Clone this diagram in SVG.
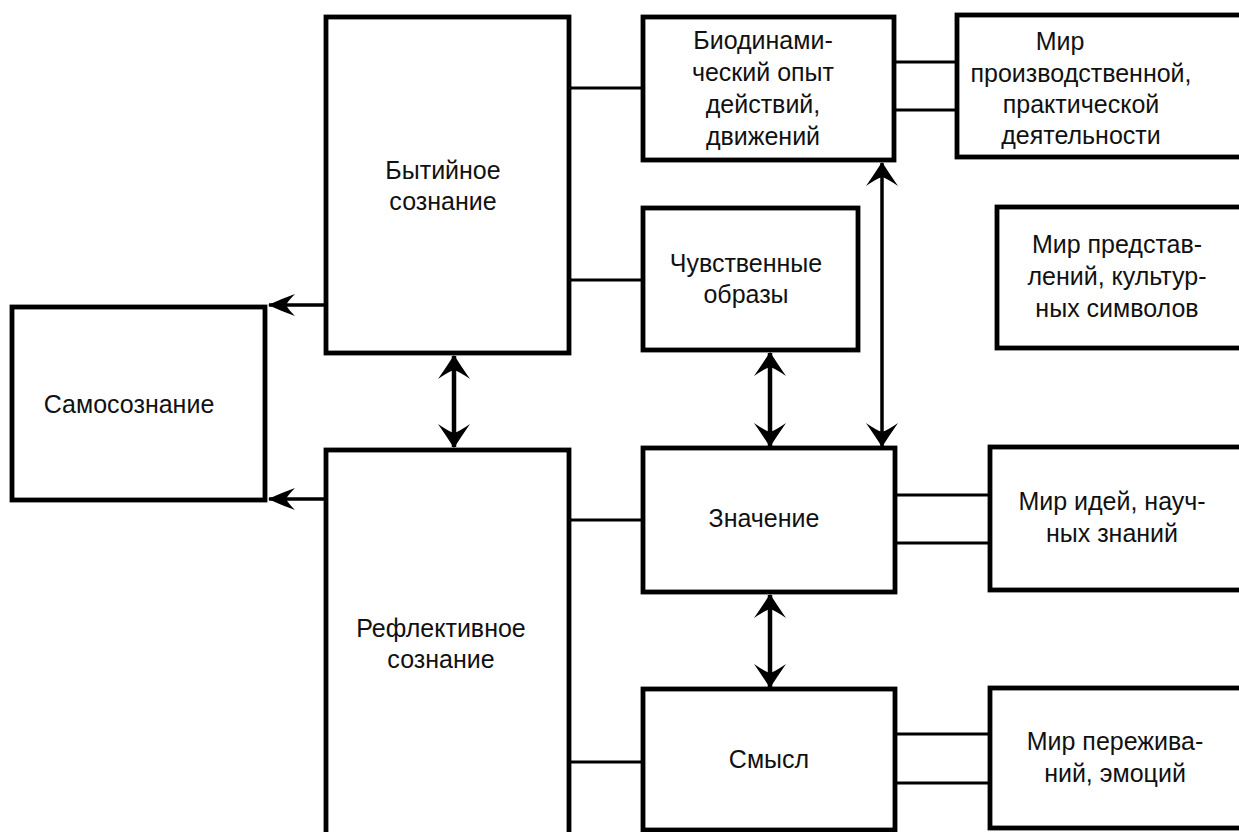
<svg xmlns="http://www.w3.org/2000/svg" width="1239" height="832" viewBox="0 0 1239 832">
<style>
.box{fill:#fff;stroke:#000;stroke-width:4.8}
.ln{fill:none;stroke:#000;stroke-width:3.2}
.dar{fill:none;stroke:#000;stroke-width:4.5}
.lar{fill:none;stroke:#000;stroke-width:3.5}
text{font-family:"Liberation Sans",Arial,sans-serif;font-size:25px;fill:#111;text-anchor:middle}
</style>
<defs>
<marker id="ah" viewBox="-26 -17 28 34" refX="0" refY="0" markerWidth="28" markerHeight="34" markerUnits="userSpaceOnUse" orient="auto-start-reverse">
<path d="M1,0 Q-10,-7 -23,-16 Q-16,-6 -14,0 Q-16,6 -23,16 Q-10,7 1,0 Z" fill="#000"/>
</marker>
<marker id="ahs" viewBox="-30 -13 32 26" refX="0" refY="0" markerWidth="32" markerHeight="26" markerUnits="userSpaceOnUse" orient="auto-start-reverse">
<path d="M1,0 Q-12,-6 -26,-11 Q-19,-4 -17,0 Q-19,4 -26,11 Q-12,6 1,0 Z" fill="#000"/>
</marker>
</defs>
<rect width="1239" height="832" fill="#fff"/>
<g id="connectors">
<line class="ln" x1="569" y1="88" x2="643" y2="88"/>
<line class="ln" x1="569" y1="280" x2="643" y2="280"/>
<line class="ln" x1="569" y1="520" x2="643" y2="520"/>
<line class="ln" x1="569" y1="762" x2="643" y2="762"/>
<line class="ln" x1="894" y1="62" x2="957" y2="62"/>
<line class="ln" x1="894" y1="110" x2="957" y2="110"/>
<line class="ln" x1="895" y1="495" x2="990" y2="495"/>
<line class="ln" x1="895" y1="543" x2="990" y2="543"/>
<line class="ln" x1="895" y1="734" x2="990" y2="734"/>
<line class="ln" x1="895" y1="783" x2="990" y2="783"/>
<line class="lar" x1="326" y1="305" x2="269" y2="305" marker-end="url(#ahs)"/>
<line class="lar" x1="326" y1="499" x2="269" y2="499" marker-end="url(#ahs)"/>
<line class="dar" x1="454" y1="356" x2="454" y2="447" marker-start="url(#ah)" marker-end="url(#ah)"/>
<line class="dar" x1="770" y1="353" x2="770" y2="446" marker-start="url(#ah)" marker-end="url(#ah)"/>
<line class="dar" x1="770" y1="595" x2="770" y2="687" marker-start="url(#ah)" marker-end="url(#ah)"/>
<line class="lar" x1="882" y1="163" x2="882" y2="446" marker-start="url(#ah)" marker-end="url(#ah)"/>
</g>
<g id="n-bytiynoe">
<rect class="box" x="326" y="17" width="243" height="336"/>
<text x="443" y="179">Бытийное</text>
<text x="443" y="210">сознание</text>
</g>
<g id="n-refl">
<rect class="box" x="326" y="450" width="243" height="400"/>
<text x="441" y="637">Рефлективное</text>
<text x="441" y="668">сознание</text>
</g>
<g id="n-samo">
<rect class="box" x="12" y="307" width="253" height="193"/>
<text x="129" y="413">Самосознание</text>
</g>
<g id="n-bio">
<rect class="box" x="643" y="17" width="251" height="143"/>
<text x="763" y="49">Биодинами-</text>
<text x="763" y="81">ческий опыт</text>
<text x="763" y="113">действий,</text>
<text x="763" y="145">движений</text>
</g>
<g id="n-chuv">
<rect class="box" x="643" y="208" width="215" height="142"/>
<text x="746" y="272">Чувственные</text>
<text x="746" y="303">образы</text>
</g>
<g id="n-znach">
<rect class="box" x="643" y="448" width="252" height="144"/>
<text x="764" y="527">Значение</text>
</g>
<g id="n-smysl">
<rect class="box" x="643" y="689" width="252" height="141"/>
<text x="769" y="768">Смысл</text>
</g>
<g id="n-mir-proizv">
<rect class="box" x="957" y="15" width="300" height="142"/>
<text x="1060" y="50">Мир</text>
<text x="1081" y="82">производственной,</text>
<text x="1081" y="113">практической</text>
<text x="1081" y="144">деятельности</text>
</g>
<g id="n-mir-predst">
<rect class="box" x="997" y="207" width="260" height="141"/>
<text x="1117" y="253">Мир представ-</text>
<text x="1117" y="285">лений, культур-</text>
<text x="1117" y="317">ных символов</text>
</g>
<g id="n-mir-idey">
<rect class="box" x="990" y="447" width="267" height="143"/>
<text x="1112" y="510">Мир идей, науч-</text>
<text x="1112" y="542">ных знаний</text>
</g>
<g id="n-mir-perezh">
<rect class="box" x="990" y="688" width="267" height="140"/>
<text x="1115" y="750">Мир пережива-</text>
<text x="1115" y="782">ний, эмоций</text>
</g>
</svg>
